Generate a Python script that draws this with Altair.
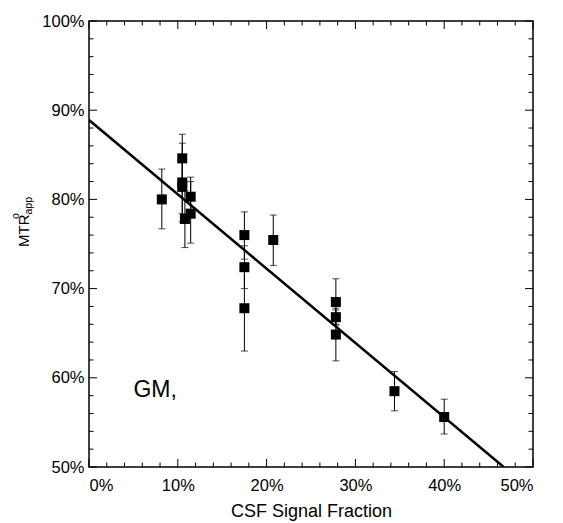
import altair as alt
import pandas as pd

# ---- data ----
csf = [8.2, 10.5, 10.5, 10.5, 11.45, 11.45, 10.8, 17.5, 17.5, 17.5, 20.75, 27.8, 27.8, 27.8, 34.4, 40.0]
mtr = [80.0, 84.6, 81.9, 81.4, 80.3, 78.4, 77.8, 76.0, 72.4, 67.8, 75.45, 68.5, 66.8, 64.85, 58.5, 55.6]
err_lo = [76.7, 81.9, 77.5, 78.4, 78.1, 75.1, 74.6, 73.3, 70.0, 63.0, 72.6, 65.9, 66.0, 61.9, 56.3, 53.7]
err_hi = [83.4, 87.3, 86.3, 84.4, 82.5, 82.0, 81.0, 78.6, 74.8, 72.6, 78.25, 71.1, 67.6, 67.8, 60.7, 57.6]

fit_x = [0.0, 46.7]
fit_y = [88.9, 50.0]

x_major = [0, 10, 20, 30, 40, 50]
x_minor = [2, 4, 6, 8, 12, 14, 16, 18, 22, 24, 26, 28, 32, 34, 36, 38, 42, 44, 46, 48]
y_major = [50, 60, 70, 80, 90, 100]
y_minor = [52, 54, 56, 58, 62, 64, 66, 68, 72, 74, 76, 78, 82, 84, 86, 88, 92, 94, 96, 98]

note_text = ["GM,"]
note_x = [5.0]
note_y = [57.85]

x_title = "CSF Signal Fraction"
y_title_main = ["MTR"]
y_title_sup = ["o"]
y_title_sub = ["app"]

# ---- layout ----
W, H = 444, 446
FONT = "Liberation Sans"
MAJ, MIN = 8, 4.5

pts = pd.DataFrame({"csf": csf, "mtr": mtr, "lo": err_lo, "hi": err_hi})
fit = pd.DataFrame({"csf": fit_x, "mtr": fit_y})
xmaj = pd.DataFrame({"v": x_major})
xmin = pd.DataFrame({"v": x_minor})
ymaj = pd.DataFrame({"v": y_major})
ymin = pd.DataFrame({"v": y_minor})

xs = alt.Scale(domain=[0, 50], nice=False, zero=False)
ys = alt.Scale(domain=[50, 100], nice=False, zero=False)

X = alt.X("csf:Q", scale=xs, axis=alt.Axis(
    values=x_major, labelExpr="datum.value + '%'", title=x_title,
    domain=False, ticks=False, tickSize=0, grid=False,
    labelFont=FONT, labelFontSize=16.5, labelColor="black", labelPadding=10,
    titleFont=FONT, titleFontSize=18, titleFontWeight="normal", titleColor="black",
    titlePadding=9))
Y = alt.Y("mtr:Q", scale=ys, axis=alt.Axis(
    values=y_major, labelExpr="datum.value + '%'", title=None,
    domain=False, ticks=False, tickSize=0, grid=False,
    labelFont=FONT, labelFontSize=16.5, labelColor="black", labelPadding=5))

line = alt.Chart(fit).mark_line(color="black", strokeWidth=2.5, clip=True).encode(x=X, y=Y)

bars = alt.Chart(pts).mark_rule(color="black", strokeWidth=1).encode(
    x=alt.X("csf:Q", scale=xs), y=alt.Y("lo:Q", scale=ys), y2="hi:Q")
cap_lo = alt.Chart(pts).mark_tick(color="black", orient="horizontal", size=7, thickness=1).encode(
    x=alt.X("csf:Q", scale=xs), y=alt.Y("lo:Q", scale=ys))
cap_hi = alt.Chart(pts).mark_tick(color="black", orient="horizontal", size=7, thickness=1).encode(
    x=alt.X("csf:Q", scale=xs), y=alt.Y("hi:Q", scale=ys))
squares = alt.Chart(pts).mark_square(color="black", opacity=1, size=100).encode(
    x=alt.X("csf:Q", scale=xs), y=alt.Y("mtr:Q", scale=ys))

note = alt.Chart(pd.DataFrame({"t": note_text, "x": note_x, "y": note_y})).mark_text(
    font=FONT, fontSize=23, align="left", baseline="alphabetic", color="black").encode(
    x=alt.X("x:Q", scale=xs), y=alt.Y("y:Q", scale=ys), text="t:N")

def xticks(df, length):
    b = alt.Chart(df).mark_rule(color="black", strokeWidth=1).encode(
        x=alt.X("v:Q", scale=xs), y=alt.value(H), y2=alt.value(H - length))
    t = alt.Chart(df).mark_rule(color="black", strokeWidth=1).encode(
        x=alt.X("v:Q", scale=xs), y=alt.value(0), y2=alt.value(length))
    return [b, t]

def yticks(df, length):
    l = alt.Chart(df).mark_rule(color="black", strokeWidth=1).encode(
        y=alt.Y("v:Q", scale=ys), x=alt.value(0), x2=alt.value(length))
    r = alt.Chart(df).mark_rule(color="black", strokeWidth=1).encode(
        y=alt.Y("v:Q", scale=ys), x=alt.value(W), x2=alt.value(W - length))
    return [l, r]

ttl_main = alt.Chart(pd.DataFrame({"t": y_title_main})).mark_text(
    font=FONT, fontSize=15, angle=270, align="left", baseline="middle", color="black").encode(
    x=alt.value(-65), y=alt.value(226), text="t:N")
ttl_sup = alt.Chart(pd.DataFrame({"t": y_title_sup})).mark_text(
    font=FONT, fontSize=10.5, angle=270, align="center", baseline="middle", color="black").encode(
    x=alt.value(-73), y=alt.value(195), text="t:N")
ttl_sub = alt.Chart(pd.DataFrame({"t": y_title_sub})).mark_text(
    font=FONT, fontSize=10.5, angle=270, align="left", baseline="middle", color="black").encode(
    x=alt.value(-60.5), y=alt.value(193.5), text="t:N")

layers = [line, bars, cap_lo, cap_hi, squares, note, ttl_main, ttl_sup, ttl_sub]
layers += xticks(xmaj, MAJ) + xticks(xmin, MIN) + yticks(ymaj, MAJ) + yticks(ymin, MIN)

chart = alt.layer(*layers).properties(
    width=W, height=H,
    autosize=alt.AutoSizeParams(type="none"),
    padding={"left": 81, "top": 13, "right": 22, "bottom": 56},
    background="white",
).configure_view(stroke="black", strokeWidth=1.5)

chart.save("out.html", embed_options={"renderer": "svg", "actions": False})
